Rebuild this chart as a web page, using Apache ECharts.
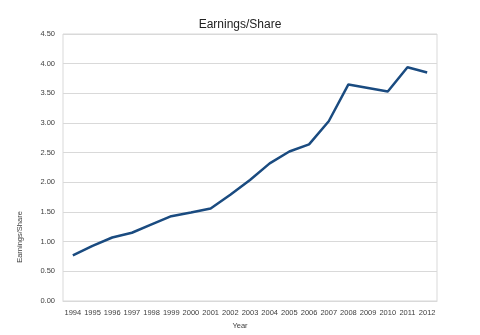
<!DOCTYPE html>
<html>
<head>
<meta charset="utf-8">
<script src="https://cdn.jsdelivr.net/npm/echarts@6/dist/echarts.min.js"></script>
<style>
  html, body { margin: 0; padding: 0; background: #fff; }
  #chart { width: 480px; height: 335px; }
</style>
</head>
<body>
<div id="chart"></div>
<script>
// Earnings per share by year
const years = ['1994','1995','1996','1997','1998','1999','2000','2001','2002','2003',
               '2004','2005','2006','2007','2008','2009','2010','2011','2012'];
const eps = [0.77, 0.93, 1.07, 1.15, 1.29, 1.43, 1.49, 1.56, 1.79, 2.04,
             2.32, 2.52, 2.64, 3.03, 3.65, 3.59, 3.53, 3.94, 3.85];

const font = 'Liberation Sans';
const chart = echarts.init(document.getElementById('chart'));
chart.setOption({
  animation: false,
  backgroundColor: '#ffffff',
  title: {
    text: 'Earnings/Share',
    left: 'center',
    top: 14,
    textStyle: { fontFamily: font, fontSize: 12, fontWeight: 'normal', color: '#222' }
  },
  grid: {
    left: 63, right: 43, top: 34, bottom: 34,
    show: true, borderColor: '#d9d9d9', borderWidth: 1
  },
  xAxis: {
    type: 'category',
    data: years,
    boundaryGap: true,
    name: 'Year',
    nameLocation: 'middle',
    nameGap: 21,
    nameTextStyle: { fontFamily: font, fontSize: 7.5, color: '#404040', padding: [0, 20, 0, 0] },
    axisLine: { lineStyle: { color: '#d9d9d9' } },
    axisTick: { show: false },
    axisLabel: { fontFamily: font, fontSize: 7.5, color: '#404040', margin: 8, interval: 0 }
  },
  yAxis: {
    type: 'value',
    min: 0, max: 4.5, interval: 0.5,
    axisLine: { show: false },
    axisTick: { show: false },
    splitLine: { lineStyle: { color: '#d9d9d9' } },
    axisLabel: {
      fontFamily: font, fontSize: 7.5, color: '#404040', margin: 8,
      formatter: v => v.toFixed(2)
    }
  },
  graphic: [{
    type: 'text',
    x: 20, y: 237,
    rotation: Math.PI / 2,
    style: {
      text: 'Earnings/Share',
      fontFamily: font, fontSize: 7.5, fill: '#404040',
      textAlign: 'center', textVerticalAlign: 'middle'
    }
  }],
  series: [{
    type: 'line',
    data: eps,
    showSymbol: false,
    lineStyle: { color: '#1a4b80', width: 2.5 },
    itemStyle: { color: '#1a4b80' }
  }]
});
</script>
</body>
</html>
